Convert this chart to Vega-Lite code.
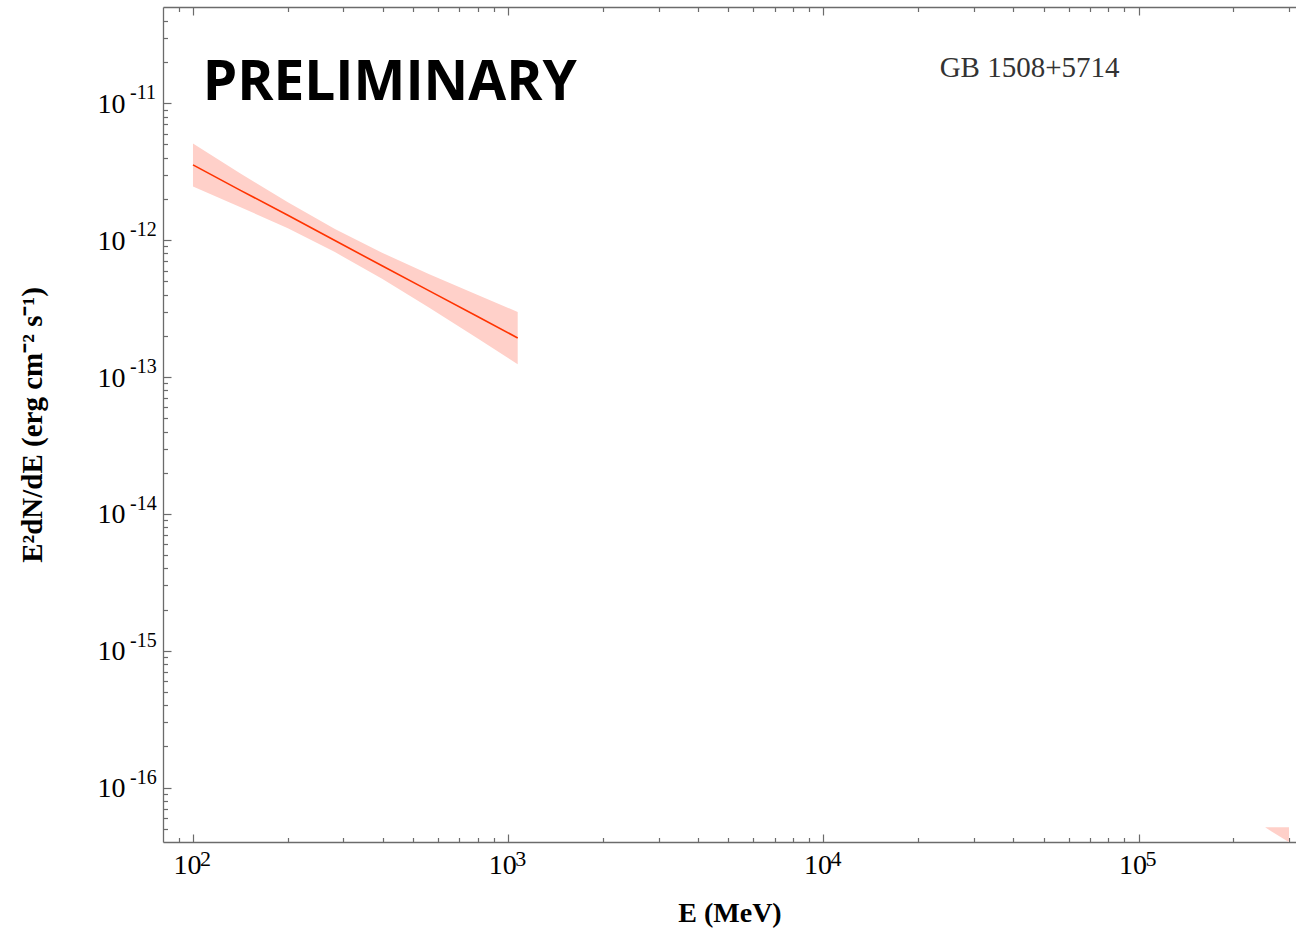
{
  "$schema": "https://vega.github.io/schema/vega-lite/v6.json",
  "width": 1133,
  "height": 835,
  "autosize": {"type": "none"},
  "padding": {"left": 163, "top": 7, "right": 0, "bottom": 89},
  "background": "white",
  "config": {
    "view": {"stroke": null},
    "axis": {
      "grid": false,
      "domainColor": "#6b6b6b",
      "domainWidth": 1.3,
      "tickColor": "#6b6b6b",
      "tickWidth": 1.2,
      "labelFont": "Liberation Serif",
      "labelFontSize": 28,
      "labelColor": "#000000",
      "titleFont": "Liberation Serif",
      "titleFontWeight": "bold",
      "titleColor": "#000000"
    }
  },
  "datasets": {
    "bands": [
      {"band": "fit", "E": 100, "flux": 3.55e-12, "upper": 5.09e-12, "lower": 2.47e-12},
      {"band": "fit", "E": 141, "flux": 2.32e-12, "upper": 3.08e-12, "lower": 1.75e-12},
      {"band": "fit", "E": 200, "flux": 1.52e-12, "upper": 1.89e-12, "lower": 1.22e-12},
      {"band": "fit", "E": 282, "flux": 9.93e-13, "upper": 1.205e-12, "lower": 8.18e-13},
      {"band": "fit", "E": 398, "flux": 6.5e-13, "upper": 8.09e-13, "lower": 5.22e-13},
      {"band": "fit", "E": 562, "flux": 4.26e-13, "upper": 5.64e-13, "lower": 3.21e-13},
      {"band": "fit", "E": 794, "flux": 2.79e-13, "upper": 4.0e-13, "lower": 1.94e-13},
      {"band": "fit", "E": 1072, "flux": 1.93e-13, "upper": 2.99e-13, "lower": 1.24e-13},
      {"band": "high", "E": 252000, "flux": null, "upper": 5.13e-17, "lower": 5.13e-17},
      {"band": "high", "E": 300000, "flux": null, "upper": 5.13e-17, "lower": 4.0e-17}
    ],
    "notes": [
      {"label": "PRELIMINARY", "E": 107.3, "flux": 1.41e-11},
      {"label": "GB 1508+5714", "E": 23380, "flux": 1.81e-11}
    ],
    "exponents": [
      {"axis": "x", "value": 100, "exp": "2"},
      {"axis": "x", "value": 1000, "exp": "3"},
      {"axis": "x", "value": 10000, "exp": "4"},
      {"axis": "x", "value": 100000, "exp": "5"},
      {"axis": "y", "value": 1e-11, "exp": "-11"},
      {"axis": "y", "value": 1e-12, "exp": "-12"},
      {"axis": "y", "value": 1e-13, "exp": "-13"},
      {"axis": "y", "value": 1e-14, "exp": "-14"},
      {"axis": "y", "value": 1e-15, "exp": "-15"},
      {"axis": "y", "value": 1e-16, "exp": "-16"}
    ]
  },
  "layer": [
    {
      "data": {"name": "bands"},
      "mark": {"type": "area", "color": "#ffd0c9", "opacity": 1, "clip": true},
      "encoding": {
        "x": {
          "field": "E", "type": "quantitative",
          "scale": {"type": "log", "domain": [80.33, 315800], "nice": false},
          "axis": {
            "orient": "bottom",
            "title": "E (MeV)",
            "titleFontSize": 28,
            "titlePadding": 17,
            "values": [90, 100, 200, 300, 400, 500, 600, 700, 800, 900, 1000, 2000, 3000, 4000, 5000, 6000, 7000, 8000, 9000, 10000, 20000, 30000, 40000, 50000, 60000, 70000, 80000, 90000, 100000, 200000, 300000],
            "labelExpr": "datum.value == 100 || datum.value == 1000 || datum.value == 10000 || datum.value == 100000 ? '10' : ''",
            "tickSize": {"condition": {"test": "datum.value == 100 || datum.value == 1000 || datum.value == 10000 || datum.value == 100000", "value": -8}, "value": -4.5},
            "labelPadding": 17,
            "labelOffset": -6,
            "labelBaseline": "top",
            "labelFlush": false,
            "labelOverlap": false
          }
        },
        "y": {
          "field": "upper", "type": "quantitative",
          "scale": {"type": "log", "domain": [4.01e-17, 5.05e-11], "nice": false},
          "axis": {
            "orient": "left",
            "title": "E²dN/dE (erg cm⁻² s⁻¹)",
            "titleFontSize": 29,
            "titlePadding": 50,
            "values": [5e-17, 6e-17, 7e-17, 8e-17, 9e-17, 1e-16, 2e-16, 3e-16, 4e-16, 5e-16, 6e-16, 7e-16, 8e-16, 9e-16, 1e-15, 2e-15, 3e-15, 4e-15, 5e-15, 6e-15, 7e-15, 8e-15, 9e-15, 1e-14, 2e-14, 3e-14, 4e-14, 5e-14, 6e-14, 7e-14, 8e-14, 9e-14, 1e-13, 2e-13, 3e-13, 4e-13, 5e-13, 6e-13, 7e-13, 8e-13, 9e-13, 1e-12, 2e-12, 3e-12, 4e-12, 5e-12, 6e-12, 7e-12, 8e-12, 9e-12, 1e-11, 2e-11, 3e-11, 4e-11],
            "labelExpr": "datum.value == 1e-11 || datum.value == 1e-12 || datum.value == 1e-13 || datum.value == 1e-14 || datum.value == 1e-15 || datum.value == 1e-16 ? '10' : ''",
            "tickSize": {"condition": {"test": "datum.value == 1e-11 || datum.value == 1e-12 || datum.value == 1e-13 || datum.value == 1e-14 || datum.value == 1e-15 || datum.value == 1e-16", "value": -8}, "value": -4.5},
            "labelPadding": 46,
            "labelOffset": 1,
            "labelFlush": false,
            "labelOverlap": false
          }
        },
        "y2": {"field": "lower"},
        "detail": {"field": "band", "type": "nominal"}
      }
    },
    {
      "data": {"name": "bands"},
      "transform": [{"filter": "datum.band == 'fit'"}],
      "mark": {"type": "line", "color": "#ff3300", "strokeWidth": 1.6, "clip": true},
      "encoding": {
        "x": {
          "field": "E", "type": "quantitative",
          "axis": {
            "orient": "top",
            "title": null,
            "labels": false,
            "values": [90, 100, 200, 300, 400, 500, 600, 700, 800, 900, 1000, 2000, 3000, 4000, 5000, 6000, 7000, 8000, 9000, 10000, 20000, 30000, 40000, 50000, 60000, 70000, 80000, 90000, 100000, 200000, 300000],
            "tickSize": {"condition": {"test": "datum.value == 100 || datum.value == 1000 || datum.value == 10000 || datum.value == 100000", "value": -8}, "value": -4.5}
          }
        },
        "y": {"field": "flux", "type": "quantitative"}
      }
    },
    {
      "data": {"name": "exponents"},
      "transform": [{"filter": "datum.axis == 'x'"}],
      "mark": {"type": "text", "align": "left", "baseline": "middle", "font": "Liberation Serif", "fontSize": 22, "color": "#000000", "dx": 7, "dy": 17},
      "encoding": {
        "x": {"field": "value", "type": "quantitative", "axis": null},
        "y": {"datum": 4.01e-17},
        "text": {"field": "exp"}
      }
    },
    {
      "data": {"name": "exponents"},
      "transform": [{"filter": "datum.axis == 'y'"}],
      "mark": {"type": "text", "align": "left", "baseline": "middle", "font": "Liberation Serif", "fontSize": 20, "color": "#000000", "dx": -33, "dy": -10},
      "encoding": {
        "x": {"datum": 80.33, "axis": null},
        "y": {"field": "value", "type": "quantitative"},
        "text": {"field": "exp"}
      }
    },
    {
      "data": {"name": "notes"},
      "transform": [{"filter": "datum.label == 'PRELIMINARY'"}],
      "mark": {"type": "text", "align": "left", "baseline": "middle", "font": "Open Sans", "fontWeight": "bold", "fontSize": 55, "color": "#000000"},
      "encoding": {
        "x": {"field": "E", "type": "quantitative", "axis": null},
        "y": {"field": "flux", "type": "quantitative"},
        "text": {"field": "label"}
      }
    },
    {
      "data": {"name": "notes"},
      "transform": [{"filter": "datum.label == 'GB 1508+5714'"}],
      "mark": {"type": "text", "align": "left", "baseline": "middle", "font": "Liberation Serif", "fontSize": 29, "color": "#333333"},
      "encoding": {
        "x": {"field": "E", "type": "quantitative", "axis": null},
        "y": {"field": "flux", "type": "quantitative"},
        "text": {"field": "label"}
      }
    }
  ],
  "resolve": {"axis": {"x": "independent"}}
}
